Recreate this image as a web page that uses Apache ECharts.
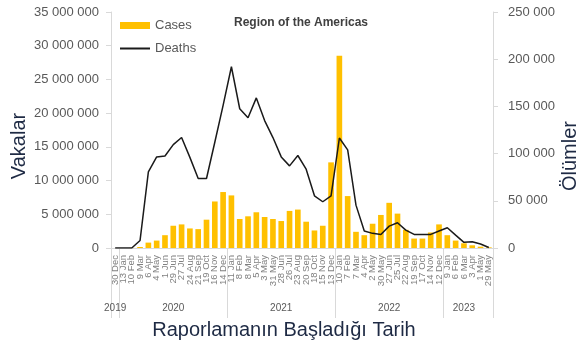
<!DOCTYPE html>
<html>
<head>
<meta charset="utf-8">
<script src="https://cdn.jsdelivr.net/npm/echarts@6/dist/echarts.min.js"></script>
<style>
  html, body { margin: 0; padding: 0; background: #fff; }
  #chart { width: 585px; height: 345px; }
</style>
</head>
<body>
<div id="chart"></div>
<script>
// Four-week reporting periods (start dates)
const periods = [
  '30 Dec', '13 Jan', '10 Feb', '9 Mar', '6 Apr', '4 May', '1 Jun', '29 Jun', '27 Jul', '24 Aug',
  '21 Sep', '19 Oct', '16 Nov', '14 Dec', '11 Jan', '8 Feb', '8 Mar', '5 Apr', '3 May', '31 May',
  '28 Jun', '26 Jul', '23 Aug', '20 Sep', '18 Oct', '15 Nov', '13 Dec', '10 Jan', '7 Feb', '7 Mar',
  '4 Apr', '2 May', '30 May', '27 Jun', '25 Jul', '22 Aug', '19 Sep', '17 Oct', '14 Nov', '12 Dec',
  '9 Jan', '6 Feb', '6 Mar', '3 Apr', '1 May', '29 May'
];
// Year of each period
const periodYears = [
  '2019',
  '2020', '2020', '2020', '2020', '2020', '2020', '2020', '2020', '2020', '2020', '2020', '2020', '2020',
  '2021', '2021', '2021', '2021', '2021', '2021', '2021', '2021', '2021', '2021', '2021', '2021', '2021',
  '2022', '2022', '2022', '2022', '2022', '2022', '2022', '2022', '2022', '2022', '2022', '2022', '2022',
  '2023', '2023', '2023', '2023', '2023', '2023'
];
// Where each year name is written, and where each year group starts
const yearLabelAt = [0, 7, 20, 33, 42];
const yearStartAt = [0, 1, 14, 27, 40];

const cases = [
  0, 0, 20000, 150000, 800000, 1100000, 1900000, 3300000, 3500000, 2900000,
  2800000, 4200000, 6900000, 8300000, 7800000, 4300000, 4700000, 5300000, 4600000, 4300000,
  4000000, 5500000, 5700000, 3900000, 2600000, 3300000, 12700000, 28500000, 7700000, 2400000,
  1900000, 3600000, 4900000, 6700000, 5100000, 2700000, 1400000, 1400000, 2300000, 3500000,
  1900000, 1100000, 700000, 400000, 200000, 100000
];
const deaths = [
  0, 0, 0, 8000, 80600, 96500, 97500, 109500, 117000, 96000,
  73600, 73600, 112000, 151000, 192000, 147500, 138000, 159000, 135000, 117000,
  96500, 87000, 98000, 83500, 55300, 49000, 55300, 116500, 104000, 45400,
  18000, 15500, 14400, 23200, 26800, 19000, 14400, 14400, 14400, 18000,
  21500, 13700, 6000, 6700, 4200, 500
];

const leftTicks = { min: 0, max: 35000000, step: 5000000 };
const rightTicks = { min: 0, max: 250000, step: 50000 };

function spaced(v) {
  return String(v).replace(/\B(?=(\d{3})+(?!\d))/g, ' ');
}

const gray = '#595959';
const axisGray = '#d9d9d9';
const font = 'Liberation Sans, Arial, sans-serif';

const chart = echarts.init(document.getElementById('chart'), null, { renderer: 'canvas' });
chart.setOption({
  animation: false,
  backgroundColor: '#fff',
  textStyle: { fontFamily: font },
  title: {
    text: 'Region of the Americas',
    left: 229, top: 12,
    textStyle: { fontSize: 12, fontWeight: 'bold', color: '#404040', fontFamily: font }
  },
  legend: {
    orient: 'vertical',
    left: 114, top: 14,
    itemWidth: 30, itemHeight: 7, itemGap: 10,
    textStyle: { fontSize: 13, color: gray, fontFamily: font },
    data: [
      { name: 'Cases', icon: 'rect' },
      { name: 'Deaths', itemStyle: { opacity: 0 } }
    ]
  },
  grid: { left: 111, right: 92, top: 12, bottom: 97, containLabel: false },
  xAxis: [
    {
      type: 'category',
      data: periods,
      boundaryGap: true,
      axisLine: { show: true, lineStyle: { color: axisGray } },
      axisTick: { show: false },
      axisLabel: { interval: 0, rotate: 90, fontSize: 9.5, color: '#808080', margin: 7 }
    },
    {
      type: 'category',
      data: periodYears,
      position: 'bottom',
      boundaryGap: true,
      axisLine: { show: false },
      axisTick: {
        show: true, length: 70, lineStyle: { color: axisGray },
        interval: (i) => yearStartAt.indexOf(i) >= 0
      },
      axisLabel: {
        interval: (i) => yearLabelAt.indexOf(i) >= 0,
        fontSize: 10, color: gray, margin: 55
      }
    }
  ],
  yAxis: [
    {
      type: 'value',
      min: leftTicks.min, max: leftTicks.max, interval: leftTicks.step,
      axisLine: { show: true, lineStyle: { color: axisGray } },
      axisTick: { show: true, length: 5, lineStyle: { color: axisGray } },
      splitLine: { show: false },
      axisLabel: { fontSize: 13, color: gray, margin: 12, formatter: spaced }
    },
    {
      type: 'value',
      min: rightTicks.min, max: rightTicks.max, interval: rightTicks.step,
      position: 'right',
      axisLine: { show: true, lineStyle: { color: axisGray } },
      axisTick: { show: true, length: 5, lineStyle: { color: axisGray } },
      splitLine: { show: false },
      axisLabel: { fontSize: 13, color: gray, margin: 15, formatter: spaced }
    }
  ],
  graphic: [
    {
      type: 'text', x: 19, y: 146, rotation: Math.PI / 2,
      style: { text: 'Vakalar', font: '20px ' + font, fill: '#1e2a44', align: 'center', verticalAlign: 'middle' }
    },
    {
      type: 'text', x: 570, y: 156, rotation: Math.PI / 2,
      style: { text: 'Ölümler', font: '20px ' + font, fill: '#1e2a44', align: 'center', verticalAlign: 'middle' }
    },
    {
      type: 'text', x: 284, y: 330,
      style: { text: 'Raporlamanın Başladığı Tarih', font: '20px ' + font, fill: '#1e2a44', align: 'center', verticalAlign: 'middle' }
    }
  ],
  series: [
    {
      name: 'Cases', type: 'bar', data: cases,
      xAxisIndex: 0, yAxisIndex: 0,
      barCategoryGap: '32%',
      itemStyle: { color: '#FFC000' }
    },
    {
      name: 'Deaths', type: 'line', data: deaths,
      xAxisIndex: 0, yAxisIndex: 1,
      symbol: 'none', smooth: false,
      lineStyle: { color: '#1a1a1a', width: 1.5 },
      itemStyle: { color: '#1a1a1a' }
    }
  ]
});
</script>
</body>
</html>
